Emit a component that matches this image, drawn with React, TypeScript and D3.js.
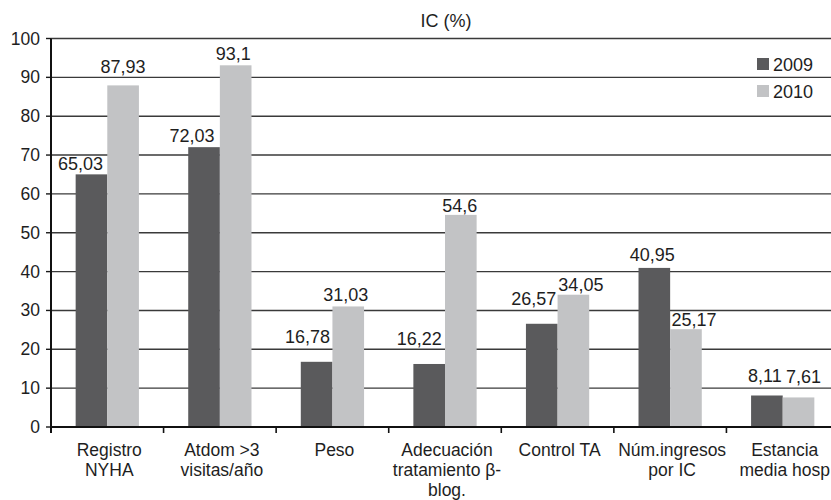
import React from "react";
import * as d3 from "d3";

// Indicator categories (each entry is one wrapped label, line by line)
const categories: string[][] = [
  ["Registro", "NYHA"],
  ["Atdom >3", "visitas/año"],
  ["Peso"],
  ["Adecuación", "tratamiento β-", "blog."],
  ["Control TA"],
  ["Núm.ingresos", "por IC"],
  ["Estancia", "media hosp"],
];

const seriesNames = ["2009", "2010"];
const values2009 = [65.03, 72.03, 16.78, 16.22, 26.57, 40.95, 8.11];
const values2010 = [87.93, 93.1, 31.03, 54.6, 34.05, 25.17, 7.61];
const labels2009 = ["65,03", "72,03", "16,78", "16,22", "26,57", "40,95", "8,11"];
const labels2010 = ["87,93", "93,1", "31,03", "54,6", "34,05", "25,17", "7,61"];
const yTicks = [0, 10, 20, 30, 40, 50, 60, 70, 80, 90, 100];
const title = "IC (%)";

// Hand-placed label offsets (px) so neighbouring value labels don't collide
const labelShift2009 = [
  [-11, 0], [-12, 1], [-9, 15], [-10, 15], [-8, 15], [-2, 3], [-2, 9],
];
const labelShift2010 = [
  [0, 8], [-2.5, 1], [-2.5, 1.5], [-1, -0.7], [7.5, -0.7], [8, -0.7], [5, 10],
];

const W = 831;
const H = 500;
const left = 51;
const right = 839;
const top = 38.5;
const bottom = 427;

const colors = ["#5a5a5c", "#c2c3c5"];
const FONT = "'Liberation Sans', Arial, sans-serif";
const textColor = "#1e1e1e";

export default function App() {
  const idx = categories.map((_, i) => String(i));
  const x = d3
    .scaleBand<string>()
    .domain(idx)
    .range([left, right])
    .paddingInner(0.438)
    .paddingOuter(0.219);
  const xs = d3
    .scaleBand<string>()
    .domain(seriesNames)
    .range([0, x.bandwidth()]);
  const y = d3.scaleLinear().domain([0, 100]).range([bottom, top]);

  const series = [
    { name: seriesNames[0], values: values2009, labels: labels2009, shift: labelShift2009 },
    { name: seriesNames[1], values: values2010, labels: labels2010, shift: labelShift2010 },
  ];

  return (
    <svg
      width={W}
      height={H}
      style={{ position: "absolute", left: 0, top: 0, background: "#fff" }}
      fontFamily={FONT}
    >
      {/* title */}
      <text x={446} y={26.5} textAnchor="middle" fontSize={18} fill={textColor}>
        {title}
      </text>

      {/* horizontal gridlines */}
      {yTicks.filter((t) => t > 0).map((t) => (
        <line
          key={"g" + t}
          x1={left}
          x2={W}
          y1={y(t)}
          y2={y(t)}
          stroke="#3a3a3a"
          strokeWidth={1.4}
        />
      ))}

      {/* y tick marks and labels */}
      {yTicks.map((t) => (
        <g key={"t" + t}>
          <line x1={left - 5} x2={left} y1={y(t)} y2={y(t)} stroke="#1a1a1a" strokeWidth={1.4} />
          <text x={40} y={y(t) + 6} textAnchor="end" fontSize={17.5} fill={textColor}>
            {t}
          </text>
        </g>
      ))}

      {/* bars */}
      {series.map((s, si) =>
        s.values.map((v, i) => (
          <rect
            key={s.name + i}
            x={(x(String(i)) as number) + (xs(s.name) as number)}
            y={y(v)}
            width={xs.bandwidth()}
            height={y(0) - y(v)}
            fill={colors[si]}
          />
        ))
      )}

      {/* value labels */}
      {series.map((s) =>
        s.values.map((v, i) => (
          <text
            key={"l" + s.name + i}
            x={(x(String(i)) as number) + (xs(s.name) as number) + xs.bandwidth() / 2 + s.shift[i][0]}
            y={y(v) - 4 - s.shift[i][1]}
            textAnchor="middle"
            fontSize={18}
            fill={textColor}
          >
            {s.labels[i]}
          </text>
        ))
      )}

      {/* axes */}
      <line x1={left} x2={left} y1={top} y2={bottom + 6} stroke="#111" strokeWidth={2} />
      <line x1={left} x2={W} y1={bottom} y2={bottom} stroke="#111" strokeWidth={2.2} />
      {d3.range(categories.length + 1).map((k) => {
        const px = left + k * x.step();
        return (
          <line key={"xt" + k} x1={px} x2={px} y1={bottom} y2={bottom + 6} stroke="#111" strokeWidth={1.6} />
        );
      })}

      {/* category labels */}
      {categories.map((lines, i) => (
        <text
          key={"c" + i}
          x={(x(String(i)) as number) + x.bandwidth() / 2 + 2}
          y={456}
          textAnchor="middle"
          fontSize={17.5}
          fill={textColor}
        >
          {lines.map((ln, j) => (
            <tspan key={j} x={(x(String(i)) as number) + x.bandwidth() / 2 + 2} dy={j === 0 ? 0 : 20}>
              {ln}
            </tspan>
          ))}
        </text>
      ))}

      {/* legend */}
      {seriesNames.map((n, i) => (
        <g key={"lg" + n} transform={`translate(757, ${58 + i * 27})`}>
          <rect x={0} y={0} width={12} height={12} fill={colors[i]} />
          <text x={16} y={12.5} fontSize={18} fill={textColor}>
            {n}
          </text>
        </g>
      ))}
    </svg>
  );
}
